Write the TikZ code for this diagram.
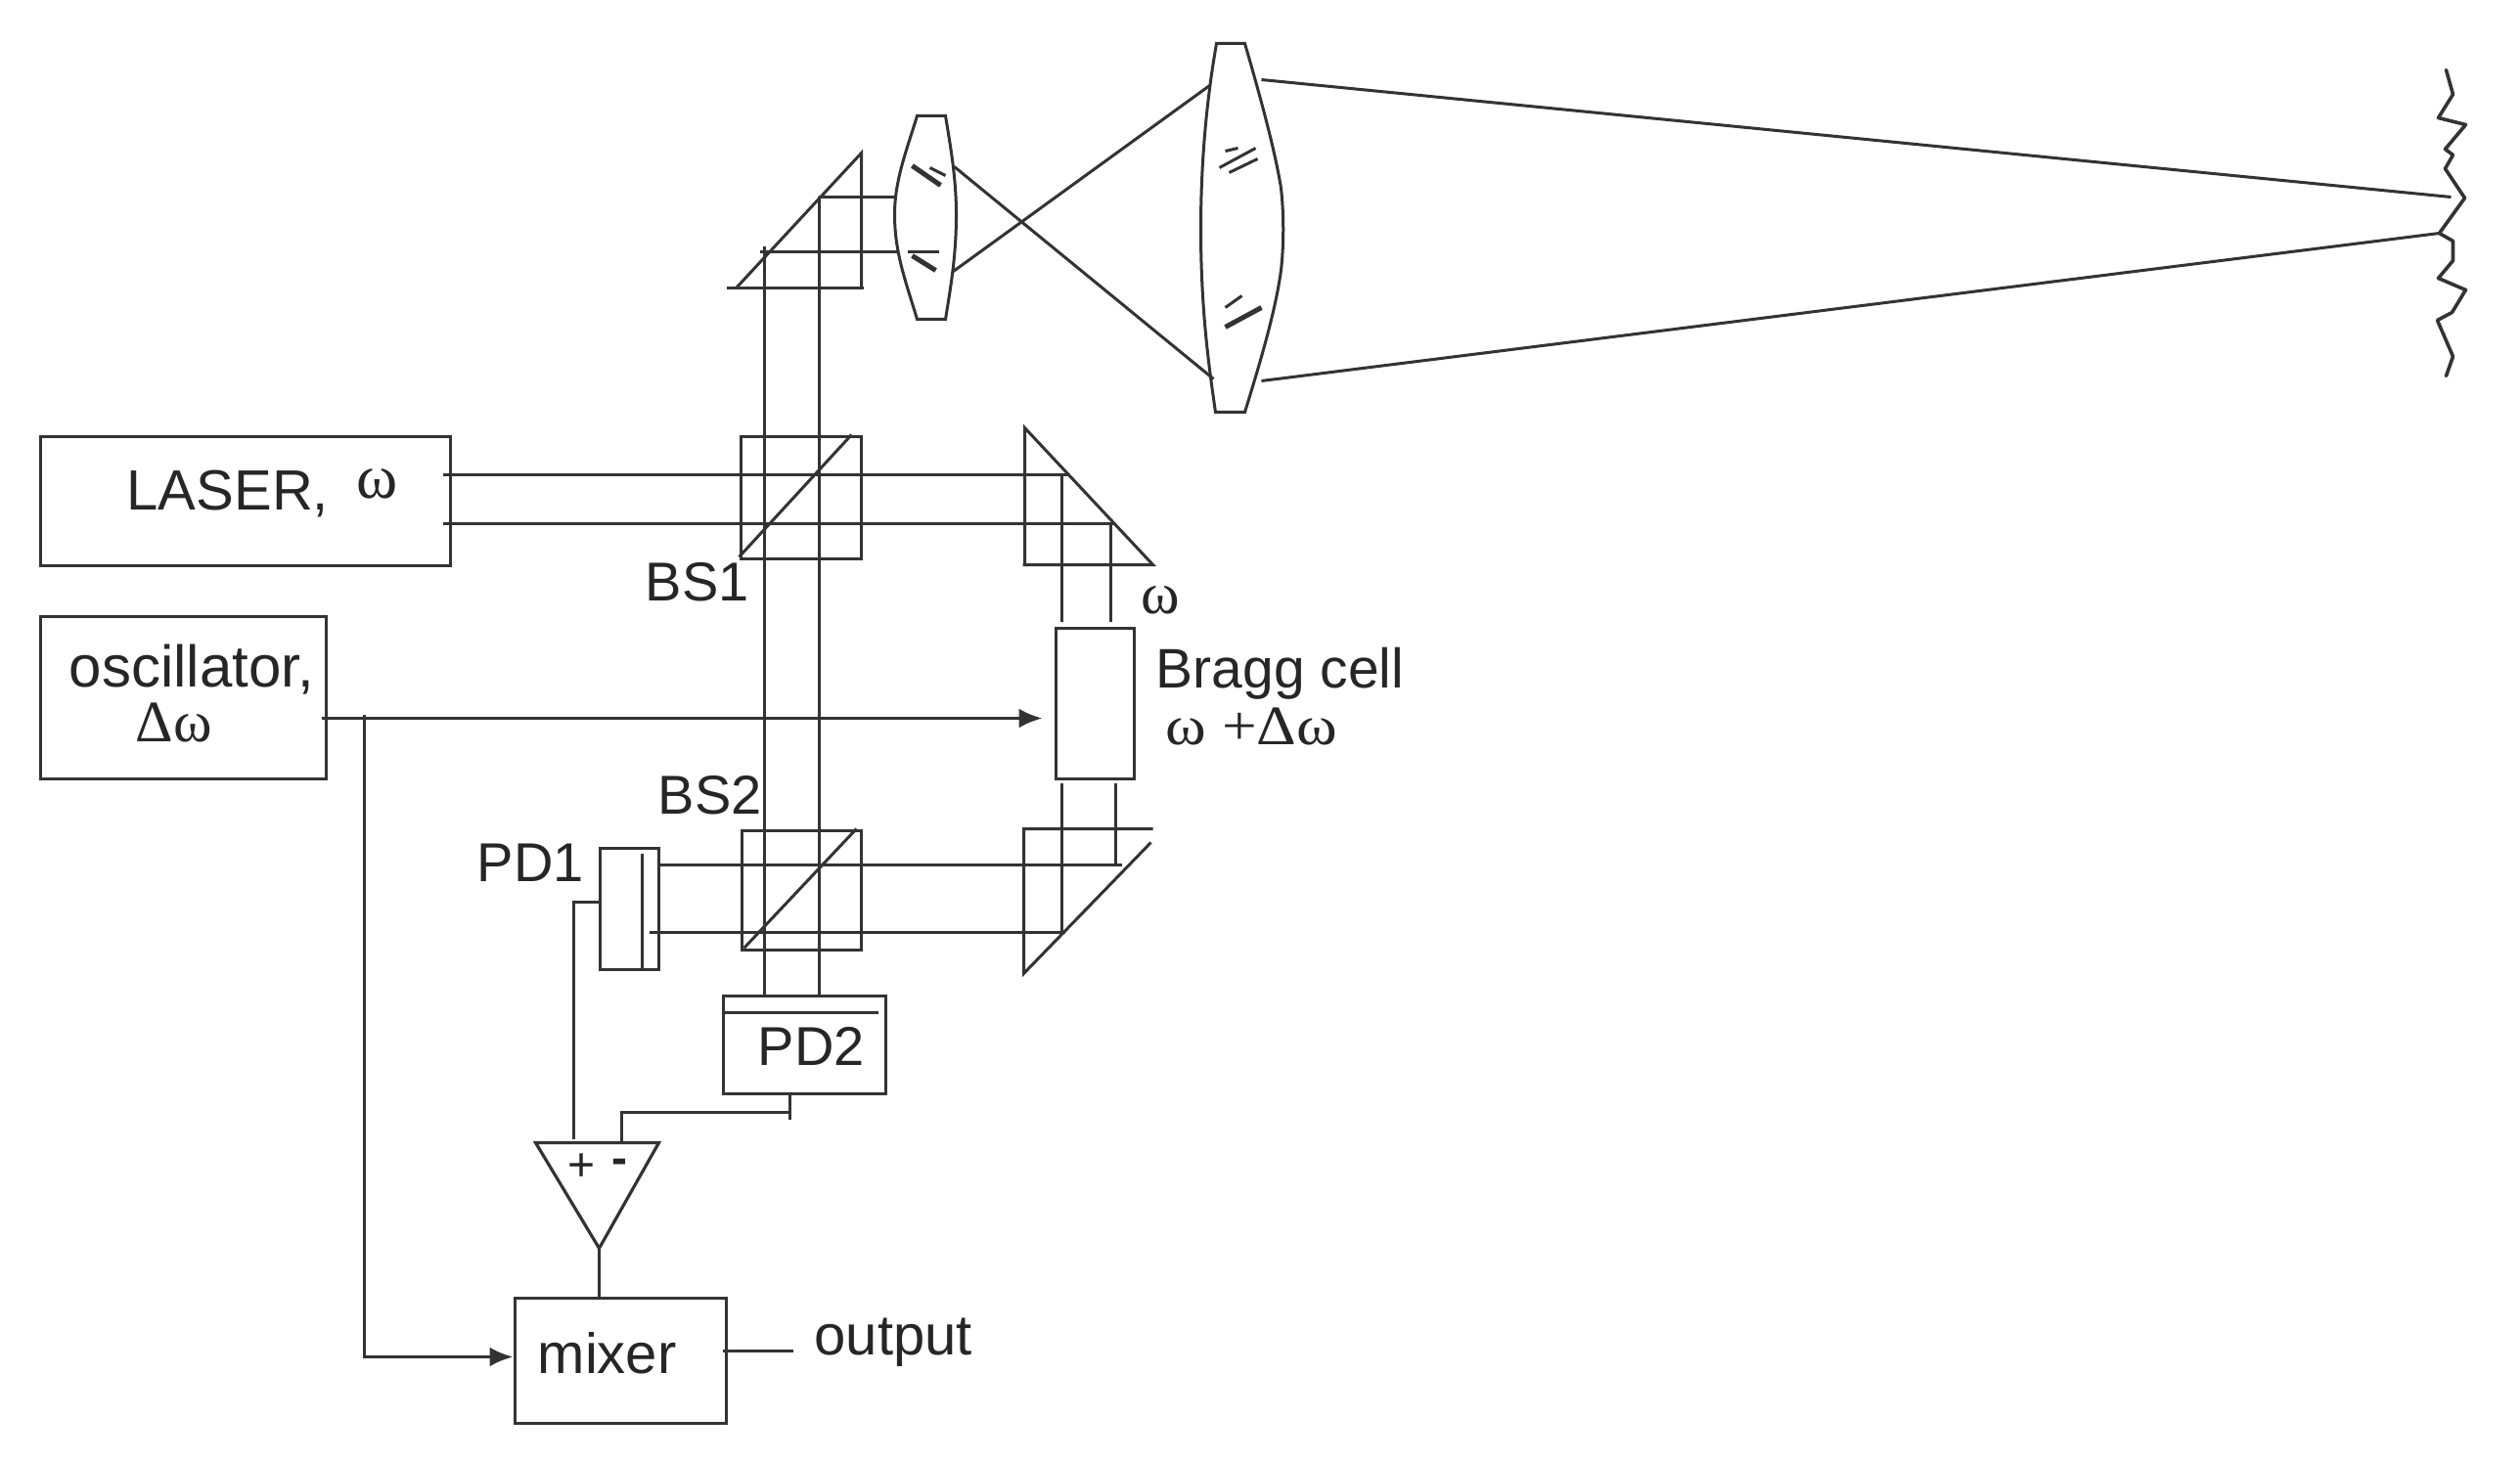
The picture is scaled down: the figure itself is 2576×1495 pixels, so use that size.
\documentclass[tikz,border=0pt]{standalone}
\usepackage{fontspec}
\setmainfont{Liberation Sans}
\newfontfamily\grk{Liberation Serif}
\usetikzlibrary{arrows.meta}
\definecolor{ink}{HTML}{333333}
\tikzset{
  optic/.style={draw=ink,line width=3pt,line join=miter},
  beam/.style={draw=ink,line width=3pt},
  wire/.style={draw=ink,line width=3.4pt},
  ray/.style={draw=ink,line width=3pt},
  hatch/.style={draw=ink,line width=3pt},
  thickhatch/.style={draw=ink,line width=5pt},
  boxed/.style={draw=ink,line width=3.2pt,rectangle,inner sep=0pt,anchor=north west},
  lab/.style={anchor=base west,inner sep=0pt,text=black!85,font=\fontsize{56}{58}\selectfont},
  sig/.style={-{Latex[length=24pt,width=20pt]}},
}
\begin{document}
\begin{tikzpicture}[x=1pt,y=-1pt]
\useasboundingbox[fill=white] (0,0) rectangle (2576,1495);
\begin{scope}[xshift=-1.5pt,yshift=0.5pt]

% boxes
\node[boxed,minimum width=419pt,minimum height=132pt] (laser) at (41,445) {};
\node[boxed,minimum width=292pt,minimum height=166pt] (osc) at (41,629) {};
\node[boxed,minimum width=123pt,minimum height=125pt] (bs1) at (757,445) {};
\node[boxed,minimum width=122pt,minimum height=122pt] (bs2) at (758,848) {};
\node[boxed,minimum width=80pt,minimum height=154pt] (bragg) at (1079,641) {};
\node[boxed,minimum width=60pt,minimum height=124pt] (pd1) at (613,866) {};
\node[boxed,minimum width=166pt,minimum height=100pt] (pd2) at (739,1017) {};
\node[boxed,minimum width=216pt,minimum height=128pt] (mixer) at (526,1326) {};

% named beam and wire points
\coordinate (lbA) at (454,486);
\coordinate (lbB) at (454,536);
\coordinate (tpA) at (1094,486);
\coordinate (tpB) at (1140,536);
\coordinate (vaTop) at (1087,486);
\coordinate (vbTop) at (1137,536);
\coordinate (vaB) at (1087,636);
\coordinate (vbB) at (1137,636);
\coordinate (vaC) at (1087,801);
\coordinate (vbC) at (1142,801);
\coordinate (vaD) at (1087,954);
\coordinate (vbD) at (1142,885);
\coordinate (hA) at (1148,885);
\coordinate (hB) at (1090,954);
\coordinate (pdA) at (673,885);
\coordinate (pdB) at (665,954);
\coordinate (upL) at (783,253);
\coordinate (upR) at (839,202);
\coordinate (dnL) at (783,1017);
\coordinate (dnR) at (839,1017);
\coordinate (tbA) at (838,202);
\coordinate (tbB) at (778,258);
\coordinate (leA) at (918,202);
\coordinate (leB) at (918,258);

% beams
\draw[beam] (lbA) -- (tpA);
\draw[beam] (lbB) -- (tpB);
\draw[beam] (vaTop) -- (vaB);
\draw[beam] (vbTop) -- (vbB);
\draw[beam] (vaC) -- (vaD);
\draw[beam] (vbC) -- (vbD);
\draw[beam] (pdA) -- (hA);
\draw[beam] (pdB) -- (hB);
\draw[beam] (upL) -- (dnL);
\draw[beam] (upR) -- (dnR);
\draw[beam] (tbA) -- (leA);
\draw[beam] (tbB) -- (leB);

% beam splitter diagonals
\draw[optic] (757,570) -- (872,445);
\draw[optic] (762,970) -- (877,848);

% top prism
\draw[optic] (744,295) -- (884,295);
\draw[optic] (754,295) -- (882,157) -- (882,295);
% right upper prism
\draw[optic] (1047,578) -- (1180,578) -- (1049,438) -- (1049,578);
% right lower prism
\draw[optic] (1180,848) -- (1048,848) -- (1048,996) -- (1178,862);

% lenses
\draw[optic] (939,119) .. controls (928,155) and (916,185) .. (916,220)
  .. controls (916,260) and (928,290) .. (939,327) -- (968,327)
  .. controls (974,290) and (979,260) .. (979,220)
  .. controls (979,185) and (974,155) .. (968,119) -- cycle;
\draw[optic] (1245,45) .. controls (1238,85) and (1229,150) .. (1229,235)
  .. controls (1229,320) and (1238,380) .. (1244,422) -- (1274,422)
  .. controls (1290,370) and (1305,320) .. (1311,277)
  .. controls (1314,250) and (1314,220) .. (1311,193)
  .. controls (1305,155) and (1290,100) .. (1274,45) -- cycle;

% lens hatches
\draw[thickhatch] (934,170) -- (963,190);
\draw[hatch] (952,172) -- (968,180);
\draw[hatch] (929,258) -- (961,258);
\draw[thickhatch] (934,262) -- (958,277);
\draw[hatch] (1248,172) -- (1285,152);
\draw[hatch] (1258,177) -- (1287,163);
\draw[hatch] (1254,155) -- (1267,152);
\draw[hatch] (1254,315) -- (1271,303);
\draw[thickhatch] (1254,335) -- (1291,315);

% rays
\coordinate (l1up) at (977,171);
\coordinate (l1lo) at (976,278);
\coordinate (l2lo) at (1242,388);
\coordinate (l2up) at (1238,88);
\coordinate (l2ou) at (1291,82);
\coordinate (l2ol) at (1291,390);
\coordinate (scu) at (2507,202);
\coordinate (scl) at (2495,239);
\draw[ray] (l1up) -- (l2lo);
\draw[ray] (l1lo) -- (l2up);
\draw[ray] (l2ou) -- (scu);
\draw[ray] (l2ol) -- (scl);

% rough target
\draw[draw=ink,line width=3.6pt,line join=round,line cap=round]
 (2502,72) -- (2509,97) -- (2494,121) -- (2522,128) -- (2501,153) -- (2509,159)
 -- (2501,173) -- (2521,203) -- (2495,239) -- (2509,247) -- (2509,267) -- (2494,285)
 -- (2522,297) -- (2508,320) -- (2493,328) -- (2509,365) -- (2502,385);

% detector inner lines
\coordinate (pd1a) at (658,873);
\coordinate (pd1b) at (658,990);
\draw[optic] (pd1a) -- (pd1b);
\coordinate (pd2a) at (739,1036);
\coordinate (pd2b) at (899,1036);
\draw[optic] (pd2a) -- (pd2b);

% electronics
\coordinate (oscout) at (330,735);
\coordinate (braggin) at (1067,735);
\coordinate (tap) at (374,735);
\coordinate (taptop) at (374,731);
\coordinate (mixcorner) at (374,1388);
\coordinate (mixin) at (526,1388);
\draw[wire,sig] (oscout) -- (braggin);
\draw[wire] (taptop) -- (tap);
\draw[wire,sig] (tap) -- (mixcorner) -- (mixin);

\coordinate (pd1w) at (613,923);
\coordinate (pd1c) at (588,923);
\coordinate (plus) at (588,1165);
\draw[wire] (pd1w) -- (pd1c) -- (plus);

\coordinate (pd2s) at (809,1117);
\coordinate (pd2e) at (809,1145);
\coordinate (pd2j) at (809,1138);
\coordinate (minc) at (637,1138);
\coordinate (minus) at (637,1169);
\draw[wire] (pd2s) -- (pd2e);
\draw[wire] (pd2j) -- (minc) -- (minus);

% amplifier
\coordinate (ampL) at (549,1169);
\coordinate (ampR) at (675,1169);
\coordinate (ampO) at (614,1277);
\draw[draw=ink,line width=3.2pt] (ampL) -- (ampR) -- (ampO) -- cycle;
\coordinate (mixtop) at (614,1326);
\draw[wire] (ampO) -- (mixtop);
\node[lab,font=\fontsize{48}{50}\selectfont] (plusT) at (582,1208) {+};
\node[lab,font=\bfseries\fontsize{48}{50}\selectfont] (minusT) at (627,1201) {-};

\coordinate (mixout) at (740,1382);
\coordinate (outend) at (812,1382);
\draw[wire] (mixout) -- (outend);

% labels
\node[lab,font=\fontsize{58}{60}\selectfont] (tLaser) at (131,522) {LASER,};
\node[lab,font=\grk\fontsize{64}{66}\selectfont] (tW) at (366,510) {ω};
\node[lab,font=\fontsize{60}{62}\selectfont] (tOsc) at (72,703) {oscillator,};
\node[lab,font=\grk\fontsize{60}{62}\selectfont] (tDw) at (140,759) {Δω};
\node[lab] (tBS1) at (661,615) {BS1};
\node[lab] (tBS2) at (674,833) {BS2};
\node[lab] (tPD1) at (489,902) {PD1};
\node[lab] (tPD2) at (776,1090) {PD2};
\node[lab,font=\fontsize{58}{60}\selectfont] (tMixer) at (551,1405) {mixer};
\node[lab,font=\fontsize{58}{60}\selectfont] (tOut) at (834,1386) {output};
\node[lab,font=\fontsize{57}{59}\selectfont] (tBragg) at (1183,704) {Bragg cell};
\node[lab,font=\grk\fontsize{57}{59}\selectfont] (tWd) at (1193,762) {\scalebox{1.11}[1]{ω +Δω}};
\node[lab,font=\grk\fontsize{60}{62}\selectfont] (tWt) at (1168,628) {ω};
\end{scope}
\end{tikzpicture}
\end{document}
